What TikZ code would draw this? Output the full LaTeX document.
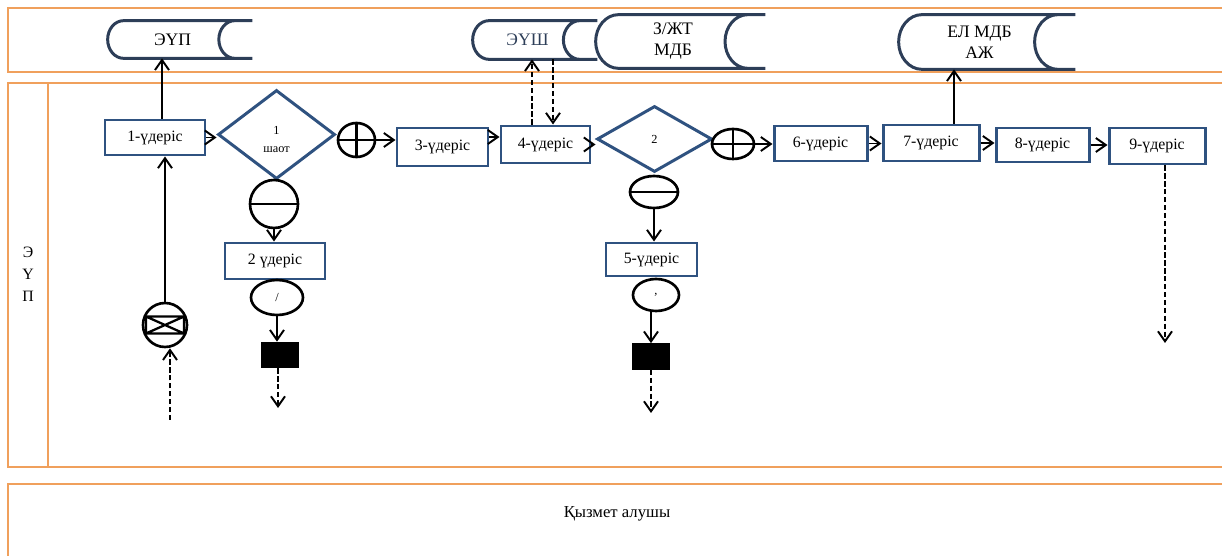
\documentclass[tikz,border=0pt]{standalone}
\usepackage{fontspec}
\setmainfont{Liberation Serif}
\usetikzlibrary{arrows.meta, shapes.geometric, calc}

\definecolor{laneorange}{RGB}{240,160,92}
\definecolor{boxblue}{RGB}{47,82,128}
\definecolor{storeblue}{RGB}{45,62,88}

\begin{document}
\begin{tikzpicture}[
    font=\fontsize{9}{11}\selectfont,
    lane/.style = {draw=laneorange, line width=1.6pt},
    proc/.style = {draw=boxblue, line width=1.7pt, inner sep=1pt},
    store/.style = {inner sep=0pt, align=center, font=\fontsize{10}{12}\selectfont},
    store line/.style = {draw=storeblue, line width=1.7pt},
    cond/.style = {diamond, draw=boxblue, line width=1.7pt, inner sep=0pt,
        align=center, font=\fontsize{7}{10}\selectfont},
    gate/.style = {ellipse, draw, line width=1.5pt, inner sep=0pt},
    yes gate/.style = {gate, path picture={\draw [line width=1.3pt]
        (path picture bounding box.north) -- (path picture bounding box.south)
        (path picture bounding box.west) -- (path picture bounding box.east);}},
    no gate/.style = {gate, path picture={\draw [line width=1.3pt]
        (path picture bounding box.west) -- (path picture bounding box.east);}},
    end box/.style = {fill, minimum width=0.76cm, minimum height=0.52cm, inner sep=0pt},
    flow/.style = {-{Straight Barb[length=2mm, width=2.8mm]}, line width=1.1pt},
    weak flow/.style = {flow, dash pattern=on 3pt off 1.5pt}]
    % \draw [help lines] (0,0) grid (24,-11);
    \useasboundingbox (0,0) rectangle (24.44,-11.12);

    % lanes
    \draw [lane] (0.16,-0.16) rectangle (24.8,-1.44);
    \draw [lane] (0.16,-1.66) rectangle (0.96,-9.34);
    \draw [lane] (0.96,-1.66) rectangle (24.8,-9.34);
    \draw [lane] (0.16,-9.68) rectangle (24.8,-11.5);
    \node (lanetext) [align=center, font=\fontsize{9}{12.5}\selectfont]
        at (0.56,-5.48) {Э\\Ү\\П};
    \node (client) [font=\fontsize{9.5}{11}\selectfont] at (12.34,-10.28) {Қызмет алушы};

    % stores
    \node (eup) [store, minimum width=2.88cm, minimum height=0.74cm]
        at (3.60,-0.79) {ЭҮП\hspace*{0.3cm}};
    \node (eush) [store, text=storeblue, minimum width=2.48cm,
        minimum height=0.76cm] at (10.70,-0.80) {ЭҮШ\hspace*{0.3cm}};
    \node (zhtmdb) [store, minimum width=3.38cm, minimum height=1.06cm]
        at (13.61,-0.83) {З/ЖТ\hspace*{0.3cm}\\МДБ\hspace*{0.3cm}};
    \node (elmdb) [store, minimum width=3.52cm, minimum height=1.08cm]
        at (19.74,-0.84) {ЕЛ МДБ\hspace*{0.3cm}\\АЖ\hspace*{0.3cm}};
    \foreach \s in {eup, eush, zhtmdb, elmdb}
        \draw [store line] let \p1 = (\s.north west), \p2 = (\s.south east),
            \n1 = {0.5*(\y1-\y2)} in
            (\x2,\y1) -- (\x1+0.85*\n1,\y1)
            arc [start angle=90, end angle=270, x radius=0.85*\n1*1pt, y radius=\n1*1pt]
            -- (\x2,\y2)
            (\x2-0.35cm,\y1)
            arc [start angle=90, end angle=270, x radius=0.85*\n1*1pt, y radius=\n1*1pt];

    % steps
    \node (p1) [proc, minimum width=2.00cm, minimum height=0.70cm] at (3.10,-2.75) {1-үдеріс};
    \node (p2) [proc, minimum width=2.00cm, minimum height=0.72cm] at (5.50,-5.22) {2 үдеріс};
    \node (p3) [proc, minimum width=1.82cm, minimum height=0.76cm] at (8.85,-2.94) {3-үдеріс};
    \node (p4) [proc, minimum width=1.78cm, minimum height=0.74cm] at (10.91,-2.89) {4-үдеріс};
    \node (p5) [proc, minimum width=1.82cm, minimum height=0.66cm] at (13.03,-5.19) {5-үдеріс};
    \node (p6) [proc, minimum width=1.86cm, minimum height=0.70cm] at (16.41,-2.87) {6-үдеріс};
    \node (p7) [proc, minimum width=1.92cm, minimum height=0.72cm] at (18.62,-2.86) {7-үдеріс};
    \node (p8) [proc, minimum width=1.86cm, minimum height=0.68cm] at (20.85,-2.90) {8-үдеріс};
    \node (p9) [proc, minimum width=1.92cm, minimum height=0.72cm] at (23.14,-2.92) {9-үдеріс};

    \node (d1) [cond, minimum width=2.34cm, minimum height=1.78cm,
        label={[align=center, font=\fontsize{7}{10}\selectfont, yshift=-0.1cm]center:1\\шаот}]
        at (5.53,-2.69) {};
    \node (d2) [cond, minimum width=2.30cm, minimum height=1.32cm] at (13.09,-2.78) {2};

    \node (yes1) [yes gate, minimum width=0.74cm, minimum height=0.68cm] at (7.13,-2.80) {};
    \node (no1) [no gate, minimum width=0.96cm, minimum height=0.96cm] at (5.48,-4.08) {};
    \node (no2) [no gate, minimum width=0.96cm, minimum height=0.64cm] at (13.08,-3.84) {};
    \node (yes2) [yes gate, minimum width=0.84cm, minimum height=0.60cm] at (14.66,-2.88) {};
    \node (entry) [gate, circle, minimum size=0.88cm, path picture={\draw [line width=1.3pt]
        (path picture bounding box.center) ++(-0.38,-0.17) rectangle ++(0.76,0.34)
        ++(-0.76,0) -- ++(0.76,-0.34) ++(-0.76,0) -- ++(0.76,0.34);}] at (3.30,-6.50) {};
    \node (c1) [gate, minimum width=1.04cm, minimum height=0.70cm,
        font=\fontsize{7}{8}\selectfont] at (5.54,-5.95) {/};
    \node (c2) [gate, minimum width=0.92cm, minimum height=0.64cm,
        font=\fontsize{7}{8}\selectfont] at (13.12,-5.90) {,};
    \node (end1) [end box] at (5.60,-7.10) {};
    \node (end2) [end box] at (13.02,-7.13) {};

    \coordinate (src) at (3.40,-8.40);
    \coordinate (out1) at (5.56,-8.16);
    \coordinate (out2) at (13.02,-8.26);
    \coordinate (out9) at (23.30,-6.86);

    \path [flow]
        (p1.east) edge (p1.east -| d1.west)
        (yes1.east) edge (yes1.east -| p3.west)
        ([yshift=0.2cm]p3.east) edge ([yshift=0.2cm]p3.east -| p4.west)
        (p4.east) edge (p4.east -| d2.west)
        (yes2.east) edge (yes2.east -| p6.west)
        (p6.east) edge (p6.east -| p7.west)
        (p7.east) edge (p7.east -| p8.west)
        (p8.east) edge (p8.east -| p9.west)
        (no1.south) edge (no1.south |- p2.north)
        (no2.south) edge (no2.south |- p5.north)
        (c1.south) edge (c1.south |- end1.north)
        (end2.north |- c2.south) edge (end2.north)
        (entry.north) edge (entry.north |- p1.south)
        ([xshift=0.14cm]p1.north) edge ([xshift=0.14cm]p1.north |- eup.south)
        ([xshift=0.46cm]p7.north) edge ([xshift=0.46cm]p7.north |- elmdb.south);

    \path [weak flow]
        (src) edge (src |- entry.south)
        (out1 |- end1.south) edge (out1)
        (out2 |- end2.south) edge (out2)
        (out9 |- p9.south) edge (out9)
        ([xshift=-0.27cm]p4.north) edge ([xshift=-0.27cm]p4.north |- eush.south)
        ([xshift=0.15cm]p4.north |- eush.south) edge ([xshift=0.15cm]p4.north);
\end{tikzpicture}
\end{document}
